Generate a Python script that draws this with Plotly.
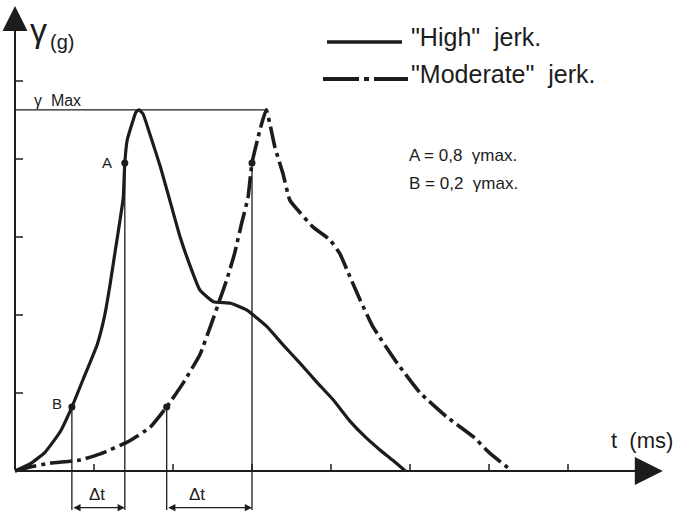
import plotly.graph_objects as go

# ---- data (tick units: x = time, y = deceleration in g) ----
t_high = [0, 0.19, 0.38, 0.57, 0.72, 0.86, 1.04, 1.13, 1.20, 1.27, 1.33, 1.37, 1.39, 1.42,
          1.49, 1.53, 1.57, 1.62, 1.71, 1.84, 1.96, 2.09, 2.22, 2.34, 2.51, 2.73, 2.94,
          3.19, 3.39, 3.61, 3.82, 4.03, 4.24, 4.43, 4.62, 4.78, 4.94]
g_high = [0, 0.09, 0.24, 0.50, 0.82, 1.17, 1.62, 1.97, 2.37, 2.83, 3.22, 3.50, 3.95, 4.24,
          4.48, 4.60, 4.63, 4.58, 4.31, 3.90, 3.47, 3.00, 2.62, 2.32, 2.17, 2.15, 2.06,
          1.85, 1.62, 1.38, 1.14, 0.91, 0.64, 0.44, 0.27, 0.14, 0.0]

t_mod = [0, 0.19, 0.44, 0.82, 1.08, 1.42, 1.71, 1.92, 2.13, 2.34, 2.49, 2.59, 2.68, 2.78,
         2.87, 2.95, 3.00, 3.10, 3.18, 3.29, 3.39, 3.48, 3.61, 3.77, 3.99, 4.11, 4.24,
         4.37, 4.53, 4.84, 5.13, 5.47, 5.80, 6.01, 6.29]
g_mod = [0, 0.05, 0.10, 0.14, 0.22, 0.37, 0.56, 0.82, 1.13, 1.49, 1.90, 2.19, 2.45, 2.79,
         3.18, 3.51, 3.95, 4.37, 4.63, 4.15, 3.82, 3.47, 3.31, 3.13, 2.96, 2.79, 2.49,
         2.19, 1.85, 1.38, 1.00, 0.69, 0.44, 0.23, 0.0]

g_max = 4.63
g_max_end_t = 3.18
# points A (0.8 gmax) and B (0.2 gmax) on each curve
pt_labels = ["A", "B"]
pt_g = [3.95, 0.82]
pt_t_high = [1.39, 0.72]
pt_t_mod = [3.00, 1.92]

x_ticks = [1, 2, 3, 4, 5, 6, 7]
y_ticks = [1, 2, 3, 4, 5]

# ---- geometry helpers (pixel layout of the 692x514 canvas) ----
W, H = 692, 514
OX, OY, SX, SY = 15, 471, 79.0, 78.0
x_range = [-OX / SX, (W - OX) / SX]
y_range = [(OY - H) / SY, OY / SY]

def px(x):
    return x / W

def py(y):
    return 1 - y / H

ink = "#1c1c1c"
fig = go.Figure()

fig.add_trace(go.Scatter(x=t_high, y=g_high, mode="lines",
                         line=dict(color=ink, width=3.2, shape="spline", smoothing=0.4),
                         hoverinfo="skip", showlegend=False))
fig.add_trace(go.Scatter(x=t_mod, y=g_mod, mode="lines",
                         line=dict(color=ink, width=3.6, shape="spline", smoothing=0.4,
                                   dash="22px,5px,4px,5px"),
                         hoverinfo="skip", showlegend=False))
fig.add_trace(go.Scatter(x=pt_t_high + pt_t_mod, y=pt_g + pt_g, mode="markers",
                         marker=dict(color=ink, size=7), hoverinfo="skip", showlegend=False))

shapes = []
# ticks
for k in x_ticks:
    shapes.append(dict(type="line", xref="x", yref="y", x0=k, x1=k, y0=0, y1=7 / SY,
                       line=dict(color=ink, width=1.5)))
for k in y_ticks:
    shapes.append(dict(type="line", xref="x", yref="y", x0=0, x1=8 / SX, y0=k, y1=k,
                       line=dict(color=ink, width=1.5)))
# gamma max line
shapes.append(dict(type="line", xref="x", yref="y", x0=0, x1=g_max_end_t, y0=g_max, y1=g_max,
                   line=dict(color=ink, width=1.3)))
# vertical drop lines
y_low = -0.5
for t, g in zip(pt_t_high + pt_t_mod, pt_g + pt_g):
    shapes.append(dict(type="line", xref="x", yref="y", x0=t, x1=t, y0=g, y1=y_low,
                       line=dict(color=ink, width=1.3)))
# legend samples
shapes.append(dict(type="line", xref="paper", yref="paper", x0=px(327), x1=px(402),
                   y0=py(42), y1=py(42), line=dict(color=ink, width=3.5)))
shapes.append(dict(type="line", xref="paper", yref="paper", x0=px(323), x1=px(408),
                   y0=py(79), y1=py(79), line=dict(color=ink, width=4, dash="36px,5px,5px,5px")))

ann = []
# axes with arrows
ann.append(dict(x=8.2, y=0, ax=0, ay=0, xref="x", yref="y", axref="x", ayref="y", text="",
                showarrow=True, arrowhead=2, arrowsize=2.8, arrowwidth=2, arrowcolor=ink))
ann.append(dict(x=0, y=5.96, ax=0, ay=0, xref="x", yref="y", axref="x", ayref="y", text="",
                showarrow=True, arrowhead=2, arrowsize=2.5, arrowwidth=2, arrowcolor=ink))
# delta t arrows
y_arr = -0.47
for t0, t1 in [(pt_t_high[1], pt_t_high[0]), (pt_t_mod[1], pt_t_mod[0])]:
    ann.append(dict(x=t1, y=y_arr, ax=t0, ay=y_arr, xref="x", yref="y", axref="x", ayref="y",
                    text="", showarrow=True, arrowhead=2, arrowside="end+start",
                    arrowsize=1.2, arrowwidth=1.2, arrowcolor=ink))

font = "Liberation Sans, Arial, sans-serif"
def txt(s, x, y, size, xanchor="center"):
    ann.append(dict(text=s, x=px(x), y=py(y), xref="paper", yref="paper", showarrow=False,
                    xanchor=xanchor, yanchor="middle", font=dict(family=font, size=size, color=ink)))

txt("γ", 38, 30, 34)
txt("(g)", 62, 42, 20)
txt("γ  Max", 32, 101, 16, "left")
txt("A", 107, 162, 15)
txt("B", 57, 403, 15)
txt("Δt", 97, 494, 17)
txt("Δt", 197, 494, 17)
txt("t  (ms)", 609, 440, 22, "left")
txt('"High"  jerk.', 409, 37, 25, "left")
txt('"Moderate"  jerk.', 409, 74, 25, "left")
txt("A = 0,8  γmax.", 407, 155, 17, "left")
txt("B = 0,2  γmax.", 407, 183, 17, "left")

fig.update_layout(
    width=W, height=H, margin=dict(l=0, r=0, t=0, b=0),
    paper_bgcolor="white", plot_bgcolor="white",
    xaxis=dict(range=x_range, visible=False, fixedrange=True),
    yaxis=dict(range=y_range, visible=False, fixedrange=True),
    shapes=shapes, annotations=ann, showlegend=False,
)
fig.write_html("out.html")
